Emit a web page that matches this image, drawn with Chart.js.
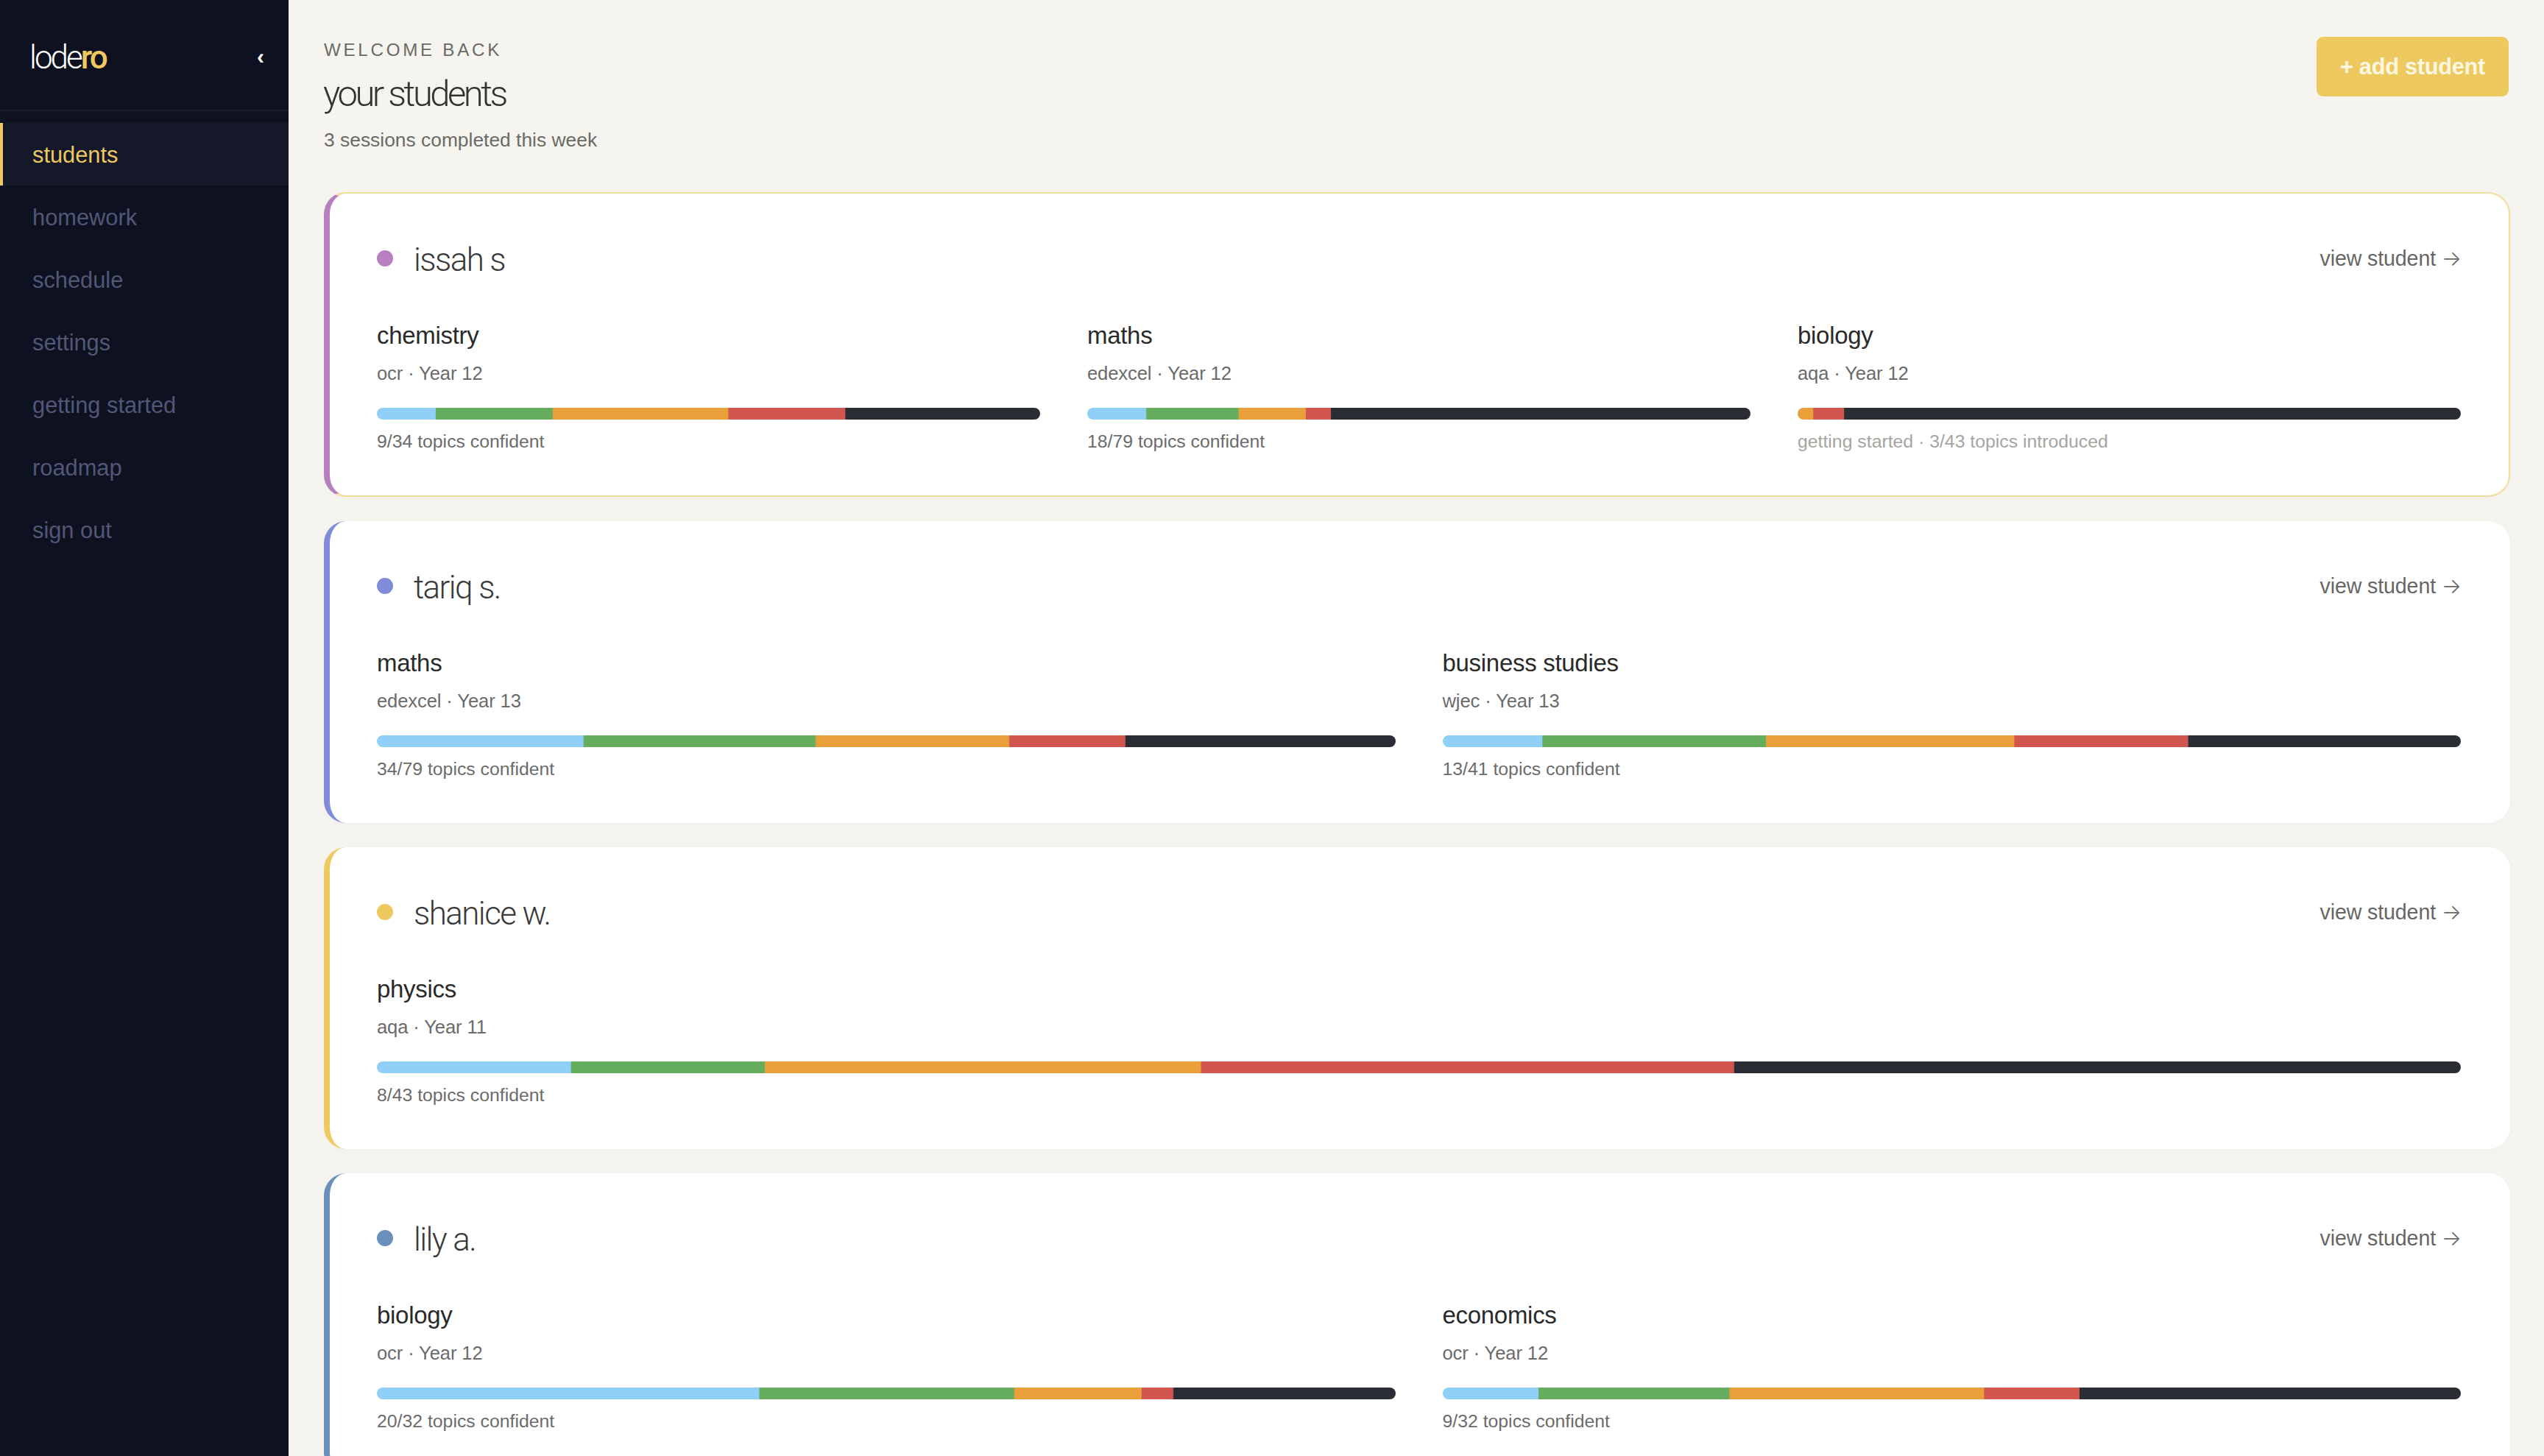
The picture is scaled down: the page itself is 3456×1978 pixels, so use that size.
<!DOCTYPE html>
<html>
<head>
<meta charset="utf-8">
<title>lodero - your students</title>
<script src="https://cdn.jsdelivr.net/npm/chart.js@4/dist/chart.umd.js"></script>
<style>
  * { box-sizing: border-box; margin: 0; padding: 0; }
  html, body { width: 3456px; height: 1978px; overflow: hidden; background: #f5f4ef; font-family: "Liberation Sans", Arial, sans-serif; }
  .light { font-family: Roboto, "Liberation Sans", sans-serif; font-weight: 300; }

  .sidebar { position: absolute; left: 0; top: 0; width: 392px; height: 1978px; background: #0d1120; }
  .logo { position: absolute; left: 40px; top: 50px; font-size: 44px; line-height: 56px; letter-spacing: -3px; color: #fff; }
  .logo b { font-weight: 500; color: #edc95f; }
  .collapse { position: absolute; left: 349px; top: 59px; font-size: 30px; line-height: 36px; font-weight: 700; color: #fff; }
  .side-rule { position: absolute; left: 0; top: 149px; width: 392px; height: 2px; background: #191d2d; }
  .nav { position: absolute; left: 0; top: 167px; width: 392px; list-style: none; }
  .nav li { height: 85px; line-height: 87px; padding-left: 44px; font-size: 30.8px; color: #525777; }
  .nav li.on { color: #edc95f; background: #141829; border-left: 4px solid #edc95f; padding-left: 40px; }

  .kicker { position: absolute; left: 440px; top: 53px; font-size: 24.2px; line-height: 30px; letter-spacing: 3.7px; color: #6b6b66; }
  h1 { position: absolute; left: 439px; top: 96px; font-size: 49px; line-height: 64px; letter-spacing: -3.5px; color: #333; }
  .sub { position: absolute; left: 440px; top: 172px; font-size: 26.4px; line-height: 36px; color: #6b6b66; }
  .add { position: absolute; left: 3147px; top: 50px; width: 261px; height: 81px; border-radius: 9px; background: #edc95f; color: #fdf6e0; font-size: 30.8px; font-weight: 700; line-height: 81px; text-align: center; letter-spacing: -.3px; }

  .cards { position: absolute; left: 440px; top: 261px; width: 2970px; }
  .card { position: relative; height: 410px; margin-bottom: 33px; background: #fff; border-radius: 30px; border-left: 8px solid; box-shadow: 0 2px 10px rgba(0,0,0,.025); }
  .card.flag { height: 414px; border-top: 2px solid #f3dd9a; border-right: 2px solid #f3dd9a; border-bottom: 2px solid #f3dd9a; }
  .dot { position: absolute; left: 64px; top: 77px; width: 22px; height: 22px; border-radius: 50%; }
  .name { position: absolute; left: 114px; top: 57px; font-size: 44px; line-height: 66px; letter-spacing: -1.6px; color: #3a3a3a; }
  .view { position: absolute; right: 66px; top: 70px; font-size: 28.6px; line-height: 36px; color: #666; letter-spacing: -.12px; }
  .view span { font-family: Inter, "Liberation Sans", sans-serif; font-weight: 300; }
  .card.flag .view { right: 64px; }
  .cols { position: absolute; left: 64px; right: 67px; top: 0; bottom: 0; display: flex; gap: 64px; }
  .card.flag .cols { right: 65px; }
  .col { position: relative; flex: 1 1 0; min-width: 0; }
  .subject { position: absolute; left: 0; top: 173px; font-size: 33px; line-height: 40px; color: #2a2a2a; letter-spacing: -.3px; }
  .meta { position: absolute; left: 0; top: 229px; font-size: 25.6px; line-height: 30px; color: #6b6b6b; letter-spacing: -.12px; }
  .track { position: absolute; left: 0; right: 0; top: 291px; height: 16px; border-radius: 8px; overflow: hidden; }
  .foot { position: absolute; left: 0; top: 322px; font-size: 24.8px; line-height: 30px; color: #6b6b6b; }
  .foot.soft { color: #a5a5a0; }
</style>
</head>
<body>
<div class="sidebar">
  <div class="logo light">lode<b>ro</b></div>
  <div class="collapse">‹</div>
  <div class="side-rule"></div>
  <ul class="nav" id="nav"></ul>
</div>
<div class="kicker">WELCOME BACK</div>
<h1 class="light">your students</h1>
<div class="sub">3 sessions completed this week</div>
<div class="add">+ add student</div>
<div class="cards" id="cards"></div>

<script>
// sidebar
const navItems = ['students', 'homework', 'schedule', 'settings', 'getting started', 'roadmap', 'sign out'];

// students and how many subjects each one has
const studentNames = ['issah s', 'tariq s.', 'shanice w.', 'lily a.'];
const studentColors = ['#b87fc0', '#7f8cd9', '#eec95f', '#6a8fbb'];
const subjectCounts = [3, 2, 1, 2];

// subjects, in reading order
const subjects = ['chemistry', 'maths', 'biology', 'maths', 'business studies', 'physics', 'biology', 'economics'];
const boards = ['ocr · Year 12', 'edexcel · Year 12', 'aqa · Year 12', 'edexcel · Year 13', 'wjec · Year 13', 'aqa · Year 11', 'ocr · Year 12', 'ocr · Year 12'];
const captions = ['9/34 topics confident', '18/79 topics confident', 'getting started · 3/43 topics introduced', '34/79 topics confident', '13/41 topics confident', '8/43 topics confident', '20/32 topics confident', '9/32 topics confident'];

// topic counts per subject for each colour band
const blueTopics = [3, 7, 0, 16, 4, 4, 12, 3];
const greenTopics = [6, 11, 0, 18, 9, 4, 8, 6];
const orangeTopics = [9, 8, 1, 15, 10, 9, 4, 8];
const redTopics = [6, 3, 2, 9, 7, 11, 1, 3];
const darkTopics = [10, 50, 40, 21, 11, 15, 7, 12];
const bandColors = ['#90d0f8', '#66ad5e', '#e9a03a', '#d15650', '#2b2d35'];

document.getElementById('nav').innerHTML = navItems
  .map((item, i) => `<li class="${i === 0 ? 'on' : ''}">${item}</li>`).join('');

function drawBar(canvas, i) {
  const bands = [blueTopics, greenTopics, orangeTopics, redTopics, darkTopics];
  const total = bands.reduce((sum, band) => sum + band[i], 0);
  new Chart(canvas, {
    type: 'bar',
    data: {
      labels: [subjects[i]],
      datasets: bands.map((band, b) => ({
        data: [band[i]],
        backgroundColor: bandColors[b],
        borderWidth: 0,
        barPercentage: 1,
        categoryPercentage: 1
      }))
    },
    options: {
      indexAxis: 'y',
      responsive: true,
      maintainAspectRatio: false,
      animation: false,
      layout: { padding: 0 },
      plugins: { legend: { display: false }, tooltip: { enabled: false }, title: { display: false } },
      scales: {
        x: { stacked: true, display: false, min: 0, max: total },
        y: { stacked: true, display: false }
      }
    }
  });
}

const cardsEl = document.getElementById('cards');
let subjectIndex = 0;
studentNames.forEach((student, s) => {
  const card = document.createElement('div');
  card.className = 'card' + (s === 0 ? ' flag' : '');
  card.style.borderLeftColor = studentColors[s];
  card.innerHTML = `<div class="dot" style="background:${studentColors[s]}"></div>
    <div class="name light">${student}</div>
    <div class="view">view student <span>→</span></div>
    <div class="cols"></div>`;
  cardsEl.appendChild(card);
  const cols = card.querySelector('.cols');
  for (let n = 0; n < subjectCounts[s]; n++) {
    const i = subjectIndex++;
    const col = document.createElement('div');
    col.className = 'col';
    col.innerHTML = `<div class="subject">${subjects[i]}</div>
      <div class="meta">${boards[i]}</div>
      <div class="track"><canvas></canvas></div>
      <div class="foot${captions[i].startsWith('getting') ? ' soft' : ''}">${captions[i]}</div>`;
    cols.appendChild(col);
    drawBar(col.querySelector('canvas'), i);
  }
});
</script>
</body>
</html>
